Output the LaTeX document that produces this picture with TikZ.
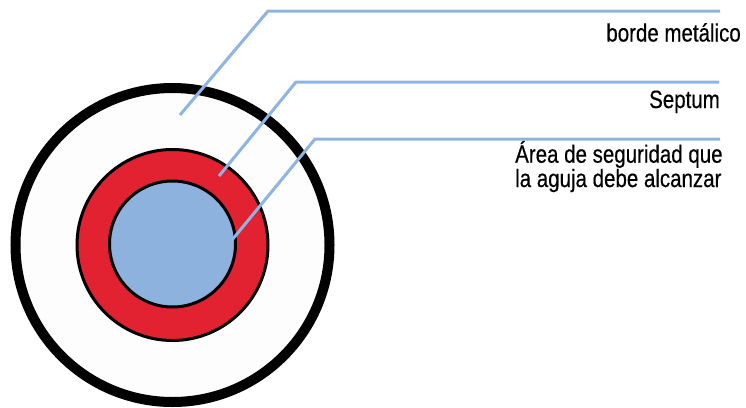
\documentclass[tikz,border=0pt]{standalone}
\usepackage{fontspec}
\setmainfont{Liberation Sans}
\newfontfamily\condfont[FakeStretch=0.82,FakeBold=0.4]{Liberation Sans}
\definecolor{leadblue}{RGB}{142,180,227}
\definecolor{fillblue}{RGB}{142,178,222}
\definecolor{septred}{RGB}{226,34,48}
\definecolor{offwhite}{RGB}{253,253,253}
\begin{document}
\begin{tikzpicture}[x=1pt,y=-1pt,
  lead/.style={draw=leadblue,line width=3pt},
  lbl/.style={inner sep=0pt,font=\condfont\fontsize{25}{21}\selectfont}]
\useasboundingbox (0,0) rectangle (746,407);
\node[circle,draw=black,line width=10pt,fill=offwhite,minimum size=314pt,inner sep=0pt] (outer) at (172.5,245) {};
\node[circle,draw=black,line width=3pt,fill=septred,minimum size=191pt,inner sep=0pt] (septum) at (172.5,245) {};
\node[circle,draw=black,line width=3pt,fill=fillblue,minimum size=126pt,inner sep=0pt] (safe) at (172.5,244) {};
% leader end points
\coordinate (p1) at (180,115);
\coordinate (k1) at (268,11);
\coordinate (e1) at (720,11);
\coordinate (p2) at (219,176);
\coordinate (k2) at (296,82);
\coordinate (e2) at (719,82);
\coordinate (p3) at (232,240);
\coordinate (k3) at (315,139);
\coordinate (e3) at (720,139);
\draw[lead] (p1) -- (k1) -- (e1);
\draw[lead] (p2) -- (k2) -- (e2);
\draw[lead] (p3) -- (k3) -- (e3);
\node[lbl,anchor=base east] (t1) at (741,41.5) {borde metálico};
\node[lbl,anchor=base east] (t2) at (720,108) {Septum};
\node[lbl,anchor=base west,align=left] (t3) at (515,187) {Área de seguridad que\\la aguja debe alcanzar};
\end{tikzpicture}
\end{document}
